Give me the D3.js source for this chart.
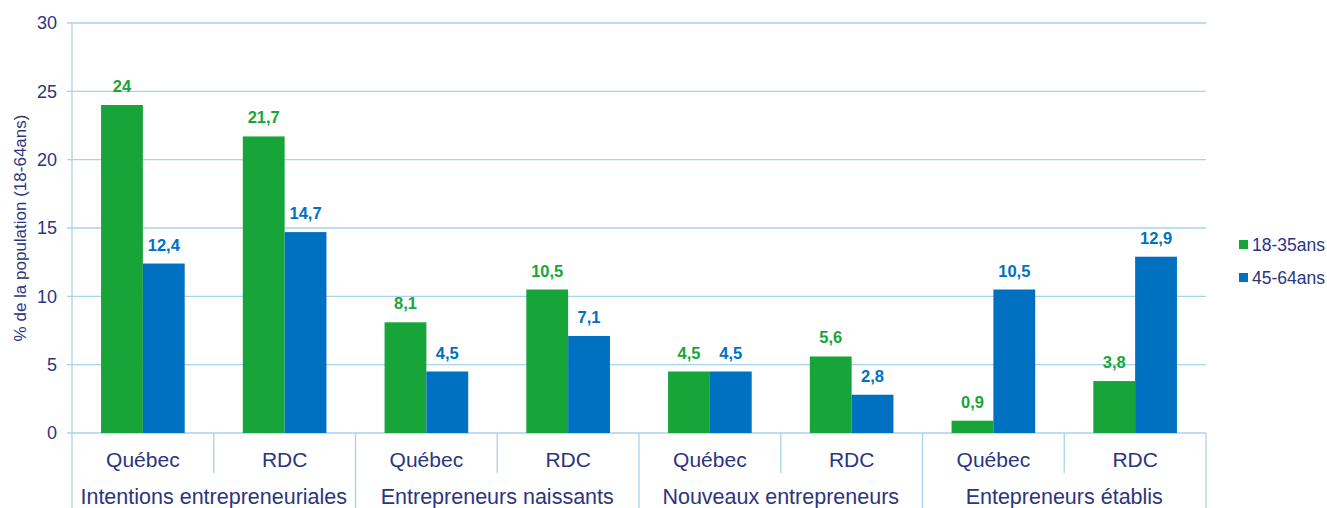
<!DOCTYPE html>
<html>
<head>
<meta charset="utf-8">
<script src="https://cdn.jsdelivr.net/npm/d3@7"></script>
<style>
  body { margin: 0; background: #fff; }
  text { font-family: "Liberation Sans", Arial, sans-serif; }
</style>
</head>
<body>
<svg id="chart" width="1327" height="508"></svg>
<script>
const groups = ["Intentions entrepreneuriales", "Entrepreneurs naissants", "Nouveaux entrepreneurs", "Entepreneurs établis"];
const places = ["Québec", "RDC"];
const series = ["18-35ans", "45-64ans"];
const young = [24, 21.7, 8.1, 10.5, 4.5, 5.6, 0.9, 3.8];
const older = [12.4, 14.7, 4.5, 7.1, 4.5, 2.8, 10.5, 12.9];
const yTicks = [0, 5, 10, 15, 20, 25, 30];

const colors = ["#17a53a", "#0070c0"];
const navy = "#2b3581";
const grid = "#a9d2ec";

let margin = { top: 23, left: 72, right: 121, bottom: 75 };
let svgWidth = 1327, svgHeight = 508;
let width = svgWidth - margin.left - margin.right,
  height = svgHeight - margin.top - margin.bottom;

const svg = d3.select("#chart");
const g = svg.append("g").attr("transform", "translate(" + margin.left + "," + margin.top + ")");

const cats = [];
groups.forEach((gr, i) => places.forEach((p, j) => cats.push({ key: i + "-" + j, group: gr, place: p })));

const x = d3.scaleBand().domain(cats.map((d) => d.key)).range([0, width]).paddingInner(0).paddingOuter(0);
const x1 = d3.scaleBand().domain(series).range([x.bandwidth() * 0.205, x.bandwidth() * 0.795]);
const y = d3.scaleLinear().domain([0, 30]).range([height, 0]);

// gridlines
g.selectAll(".grid").data(yTicks).enter().append("line")
  .attr("x1", -5).attr("x2", width)
  .attr("y1", (d) => y(d)).attr("y2", (d) => y(d))
  .attr("stroke", grid).attr("stroke-width", 1.3);

// y axis line
g.append("line").attr("x1", 0).attr("x2", 0).attr("y1", 0).attr("y2", height + 75)
  .attr("stroke", grid).attr("stroke-width", 1.3);

// tick labels
g.selectAll(".ytick").data(yTicks).enter().append("text")
  .attr("x", -15).attr("y", (d) => y(d)).attr("dy", "0.35em")
  .attr("text-anchor", "end").attr("font-size", 18).attr("fill", navy)
  .text((d) => d);

// y axis title
svg.append("text")
  .attr("transform", "translate(26," + (margin.top + height / 2) + ") rotate(-90)")
  .attr("text-anchor", "middle").attr("font-size", 17).attr("fill", navy)
  .text("% de la population (18-64ans)");

// bars
const catG = g.selectAll(".cat").data(cats).enter().append("g")
  .attr("transform", (d) => "translate(" + x(d.key) + ",0)");

catG.each(function (d, i) {
  const vals = [young[i], older[i]];
  const sel = d3.select(this);
  series.forEach((s, k) => {
    sel.append("rect")
      .attr("x", x1(s)).attr("width", x1.bandwidth())
      .attr("y", y(vals[k])).attr("height", height - y(vals[k]))
      .attr("fill", colors[k]);
    sel.append("text")
      .attr("x", x1(s) + x1.bandwidth() / 2).attr("y", y(vals[k]) - 13)
      .attr("text-anchor", "middle").attr("font-size", 16.5).attr("font-weight", "bold")
      .attr("fill", colors[k])
      .text(String(vals[k]).replace(".", ","));
  });
  sel.append("text")
    .attr("x", x.bandwidth() / 2).attr("y", height + 34)
    .attr("text-anchor", "middle").attr("font-size", 21).attr("fill", navy)
    .text(d.place);
});

// category dividers
cats.forEach((d, i) => {
  const xx = x(d.key) + x.bandwidth();
  const isGroupEnd = i % 2 === 1;
  g.append("line").attr("x1", xx).attr("x2", xx)
    .attr("y1", height).attr("y2", isGroupEnd ? height + 75 : height + 40)
    .attr("stroke", grid).attr("stroke-width", 1.3);
});

// group labels
groups.forEach((gr, i) => {
  const cx = x(i + "-0") + x.bandwidth();
  g.append("text")
    .attr("x", cx).attr("y", height + 71)
    .attr("text-anchor", "middle").attr("font-size", 21.5).attr("fill", navy)
    .text(gr);
});

// legend
const leg = svg.append("g").attr("transform", "translate(1239,238)");
series.forEach((s, k) => {
  const row = leg.append("g").attr("transform", "translate(0," + k * 33 + ")");
  row.append("rect").attr("width", 9).attr("height", 9).attr("y", 2).attr("fill", colors[k]);
  row.append("text").attr("x", 13).attr("y", 7).attr("dy", "0.35em")
    .attr("font-size", 17.5).attr("fill", navy).text(s);
});
</script>
</body>
</html>
